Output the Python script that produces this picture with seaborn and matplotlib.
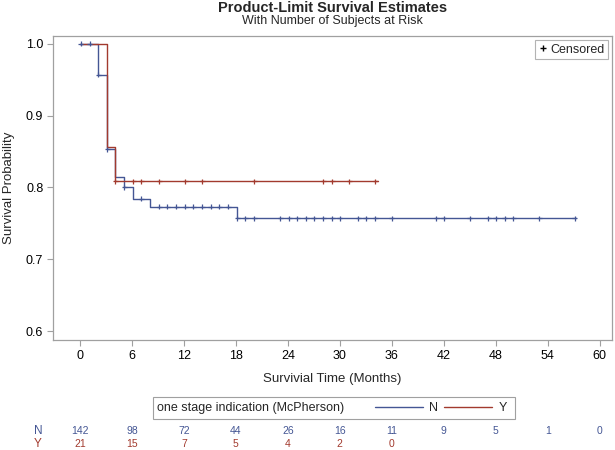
import numpy as np
import pandas as pd
import seaborn as sns
import matplotlib.pyplot as plt
from matplotlib.lines import Line2D
from matplotlib.patches import Rectangle
from matplotlib.transforms import blended_transform_factory

# step times (months) and survival estimate after each step, last point = end of follow-up
n_times = [0, 2.1, 3.15, 4.05, 5.1, 6.15, 8.1, 18.15, 57.2]
n_surv = [1.0, 0.957, 0.853, 0.815, 0.800, 0.784, 0.773, 0.757, 0.757]
y_times = [0, 3.15, 4.08, 34.35]
y_surv = [1.0, 0.857, 0.809, 0.809]

# censoring times
n_censor = [0.12, 1.15, 2.1, 3.15, 5.1, 7.08, 9.15, 10.1, 11.1, 12.15, 13.1, 14.1,
            15.1, 16.1, 17.1, 18.15, 19.08, 20.1, 23.1, 24.15, 25.1, 26.1, 27.0,
            28.1, 29.1, 30.0, 32.1, 33.0, 34.1, 36.0, 41.1, 42.0, 45.0, 47.1,
            48.0, 49.0, 50.0, 53.0, 57.1]
y_censor = [4.08, 6.15, 7.08, 9.15, 12.15, 14.1, 20.1, 28.1, 29.1, 31.1, 34.1]

# number at risk
risk_times = [0, 6, 12, 18, 24, 30, 36, 42, 48, 54, 60]
n_risk = [142, 98, 72, 44, 26, 16, 11, 9, 5, 1, 0]
y_risk = [21, 15, 7, 5, 4, 2, 0]

BLUE = '#445694'
RED = '#A23A2E'
GREY = '#A0A0A0'
palette = {'N': BLUE, 'Y': RED}


def surv_at(times, surv, t):
    '''
    Value of the step function at the censoring times.
    '''
    idx = np.searchsorted(times, t, side='right') - 1
    return np.array(surv)[idx]


steps = pd.concat([
    pd.DataFrame({'time': n_times, 'surv': n_surv, 'group': 'N'}),
    pd.DataFrame({'time': y_times, 'surv': y_surv, 'group': 'Y'}),
])
cens = pd.concat([
    pd.DataFrame({'time': n_censor, 'surv': surv_at(n_times, n_surv, n_censor), 'group': 'N'}),
    pd.DataFrame({'time': y_censor, 'surv': surv_at(y_times, y_surv, y_censor), 'group': 'Y'}),
])

sns.set_style('white')
plt.rcParams['font.family'] = ['Liberation Sans', 'DejaVu Sans']

fig = plt.figure(figsize=(6.15, 4.5), dpi=100)
ax = fig.add_axes([0.0862, 0.2444, 0.9089, 0.6756])

sns.lineplot(data=steps, x='time', y='surv', hue='group', palette=palette,
             drawstyle='steps-post', estimator=None, sort=False, legend=False,
             linewidth=1, ax=ax)
sns.scatterplot(data=cens, x='time', y='surv', hue='group', palette=palette,
                marker='+', s=13, linewidth=0.9, legend=False, ax=ax, zorder=3)

ax.set_xlim(-3.1, 61.4)
ax.set_ylim(0.5875, 1.011)
ax.set_xticks(risk_times)
ax.set_yticks([0.6, 0.7, 0.8, 0.9, 1.0])
ax.set_yticklabels([f'{v:.1f}' for v in [0.6, 0.7, 0.8, 0.9, 1.0]])
ax.tick_params(axis='both', which='major', length=4, width=0.8, color=GREY,
               labelsize=9, labelcolor='black', direction='out', pad=3,
               bottom=True, left=True)
for sp in ax.spines.values():
    sp.set_color(GREY)
    sp.set_linewidth(0.9)
ax.set_xlabel('Survivial Time (Months)', fontsize=9.5, labelpad=8)
ax.set_ylabel('Survival Probability', fontsize=9.5, labelpad=8)

# censored legend
h = Line2D([], [], marker='+', color='black', linestyle='none', markersize=5, markeredgewidth=1)
leg = ax.legend([h], ['Censored'], loc='upper right', fontsize=9, frameon=True,
                fancybox=False, handlelength=0.6, handletextpad=0.3,
                borderpad=0.3, borderaxespad=0.3)
leg.get_frame().set_edgecolor(GREY)
leg.get_frame().set_linewidth(0.8)

# titles
fig.text(0.54, 1 - 8 / 450, 'Product-Limit Survival Estimates', ha='center', va='center',
         fontsize=10.5, fontweight='bold')
fig.text(0.54, 1 - 21 / 450, 'With Number of Subjects at Risk', ha='center', va='center',
         fontsize=9)

# group legend below the axis
fig.patches.append(Rectangle((153 / 615, 1 - 419 / 450), 362 / 615, 22 / 450,
                             transform=fig.transFigure, fill=False,
                             edgecolor=GREY, linewidth=0.8))
fig.text(157 / 615, 1 - 408 / 450, 'one stage indication (McPherson)',
         ha='left', va='center', fontsize=9)
fig.legend([Line2D([], [], color=BLUE, lw=1), Line2D([], [], color=RED, lw=1)],
           ['N', 'Y'], loc='center left', bbox_to_anchor=(375 / 615, 1 - 408 / 450),
           ncol=2, frameon=False, fontsize=9, handlelength=3.8,
           handletextpad=0.55, columnspacing=0.45, borderpad=0, borderaxespad=0)

# number at risk table
tr = blended_transform_factory(ax.transData, fig.transFigure)
fig.text(38 / 615, 1 - 431 / 450, 'N', color=BLUE, ha='center', va='center', fontsize=8.5)
fig.text(38 / 615, 1 - 444 / 450, 'Y', color=RED, ha='center', va='center', fontsize=8.5)
for t, n in zip(risk_times, n_risk):
    ax.text(t, 1 - 431 / 450, str(n), transform=tr, color=BLUE, ha='center',
            va='center', fontsize=7.5)
for t, n in zip(risk_times, y_risk):
    ax.text(t, 1 - 444 / 450, str(n), transform=tr, color=RED, ha='center',
            va='center', fontsize=7.5)

fig.savefig('out.png', dpi=100)
